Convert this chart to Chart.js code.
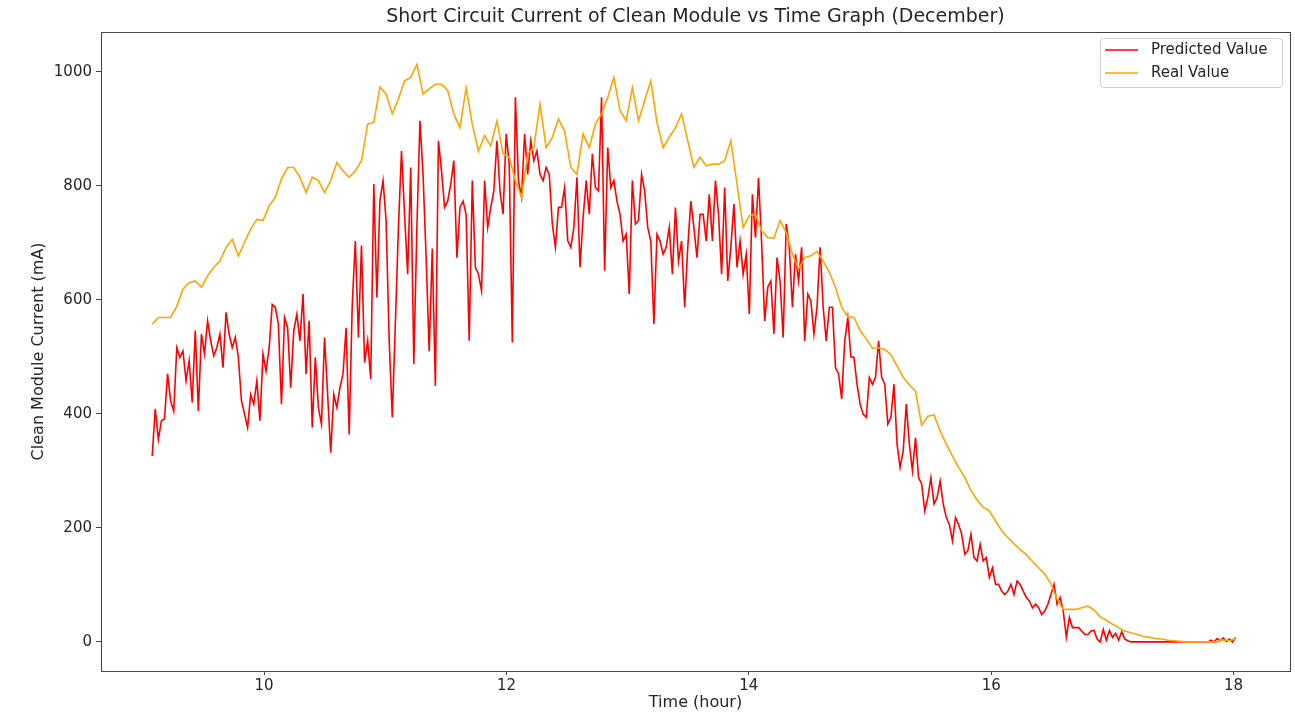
<!DOCTYPE html>
<html>
<head>
<meta charset="utf-8">
<title>Short Circuit Current of Clean Module vs Time Graph (December)</title>
<script src="https://cdn.jsdelivr.net/npm/chart.js@4.4.1/dist/chart.umd.min.js"></script>
<style>
    body { margin: 0; background: #fff; }
    #wrap { width: 1295px; height: 720px; }
</style>
</head>
<body>
<div id="wrap"><canvas id="chart" width="1295" height="720"></canvas></div>
<script>
// sampling of the two series (hours)
const predictedStart = 9.0764;
const predictedStep = 0.0254;
const realStart = 9.0764;
const realStep = 0.0508;

// Predicted Value (mA)
const predictedValues = [
    326, 409, 355, 388, 391, 470, 423, 405, 516, 499, 510, 458, 493, 420, 546, 405, 540, 505, 563, 528,
    502, 516, 540, 481, 578, 540, 516, 534, 499, 423, 400, 376, 434, 417, 458, 388, 505, 475, 516, 592,
    587, 557, 417, 569, 551, 446, 546, 575, 528, 610, 470, 563, 376, 499, 411, 382, 534, 434, 332, 434,
    411, 446, 470, 551, 364, 592, 703, 534, 695, 490, 528, 461, 803, 604, 774, 809, 739, 528, 394, 557,
    727, 861, 750, 645, 832, 487, 727, 914, 820, 674, 510, 690, 449, 879, 826, 762, 773, 803, 844, 674,
    762, 773, 750, 528, 809, 657, 645, 616, 809, 727, 762, 791, 879, 791, 750, 891, 838, 525, 955, 809,
    780, 891, 820, 879, 844, 861, 820, 809, 832, 820, 733, 692, 762, 762, 797, 704, 692, 727, 815, 657,
    744, 809, 750, 856, 797, 791, 955, 651, 867, 797, 809, 773, 750, 703, 715, 610, 809, 733, 739, 820,
    791, 727, 703, 557, 715, 703, 680, 692, 727, 645, 762, 668, 703, 587, 692, 773, 727, 674, 750, 750,
    703, 785, 703, 809, 750, 645, 797, 633, 692, 768, 657, 703, 645, 680, 575, 785, 709, 814, 700, 563,
    622, 633, 540, 674, 633, 534, 733, 692, 587, 680, 633, 692, 528, 610, 598, 540, 587, 692, 587, 528,
    587, 587, 481, 470, 426, 528, 569, 500, 499, 452, 417, 399, 394, 464, 452, 464, 528, 464, 452, 382,
    394, 452, 347, 306, 335, 417, 347, 300, 358, 288, 277, 230, 253, 288, 242, 253, 282, 242, 218, 206,
    177, 218, 206, 189, 154, 160, 189, 148, 142, 171, 142, 148, 113, 130, 101, 101, 89, 83, 89, 101,
    83, 107, 101, 89, 78, 72, 60, 66, 60, 48, 54, 66, 83, 101, 66, 78, 54, 8, 43, 25,
    25, 25, 19, 13, 13, 19, 20, 5, 0, 22, 3, 20, 8, 15, 3, 18, 5, 2, 0, 0,
    0, 0, 0, 0, 0, 0, 0, 0, 0, 0, 0, 0, 0, 0, 0, 0, 0, 0, 0, 0,
    0, 0, 0, 0, 3, 0, 6, 2, 7, 1, 5, 0, 8
];

// Real Value (mA)
const realValues = [
    557, 569, 569, 569, 589, 619, 630, 633, 622, 642, 657, 668, 692, 706, 677, 701, 724, 741, 739, 765,
    780, 812, 832, 832, 815, 788, 815, 809, 788, 809, 841, 826, 815, 826, 844, 908, 911, 973, 961, 926,
    952, 984, 990, 1013, 961, 970, 978, 978, 967, 926, 902, 972, 908, 861, 888, 870, 914, 856, 850, 809,
    780, 856, 867, 943, 867, 885, 917, 896, 832, 820, 891, 867, 908, 926, 955, 990, 932, 914, 972, 914,
    949, 984, 911, 867, 885, 902, 926, 879, 832, 850, 835, 838, 838, 844, 879, 803, 727, 747, 750, 721,
    709, 708, 739, 718, 680, 654, 674, 677, 685, 668, 648, 622, 587, 570, 569, 546, 531, 515, 516, 513,
    504, 484, 464, 451, 440, 380, 396, 398, 370, 347, 326, 306, 288, 266, 249, 236, 230, 212, 195, 183,
    172, 162, 153, 141, 130, 119, 102, 75, 57, 57, 57, 60, 63, 56, 44, 38, 31, 25, 19, 16,
    13, 10, 8, 6, 5, 3, 2, 1, 0, 0, 0, 0, 0, 0, 4, 2, 6
];

const xTickValues = [10, 12, 14, 16, 18];
const yTickValues = [0, 200, 400, 600, 800, 1000];

const seriesNames = ['Predicted Value', 'Real Value'];
const seriesColors = ['#ff0000', '#ffa500'];

function toPoints(start, step, values) {
    return values.map((v, i) => ({ x: start + step * i, y: v }));
}

const textColor = '#262626';
const axisColor = '#444444';
const fontFamily = '"DejaVu Sans", sans-serif';

// box round the plot, like matplotlib spines
const frame = {
    id: 'frame',
    afterDatasetsDraw(chart) {
        const { ctx, chartArea } = chart;
        ctx.save();
        ctx.strokeStyle = axisColor;
        ctx.lineWidth = 1;
        ctx.strokeRect(Math.round(chartArea.left) + 0.5, Math.round(chartArea.top) + 0.5,
            Math.round(chartArea.right - chartArea.left), Math.round(chartArea.bottom - chartArea.top));
        ctx.restore();
    }
};

// legend box in the upper right corner
const cornerLegend = {
    id: 'cornerLegend',
    afterDraw(chart) {
        const ctx = chart.ctx;
        ctx.save();
        ctx.beginPath();
        ctx.roundRect(1100.5, 38.5, 182, 49, 3);
        ctx.fillStyle = 'rgba(255,255,255,0.8)';
        ctx.fill();
        ctx.strokeStyle = '#d0d0d0';
        ctx.lineWidth = 1;
        ctx.stroke();

        ctx.font = '15px ' + fontFamily;
        ctx.textBaseline = 'middle';
        ctx.textAlign = 'left';
        seriesNames.forEach((name, k) => {
            const y = 50 + k * 23;
            ctx.beginPath();
            ctx.moveTo(1105, y);
            ctx.lineTo(1138, y);
            ctx.strokeStyle = seriesColors[k];
            ctx.lineWidth = 1.6;
            ctx.stroke();
            ctx.fillStyle = textColor;
            ctx.fillText(name, 1151, y);
        });
        ctx.restore();
    }
};

const canvas = document.getElementById('chart');

const chart = new Chart(canvas, {
    type: 'line',
    data: {
        datasets: [{
            label: seriesNames[0],
            data: toPoints(predictedStart, predictedStep, predictedValues),
            borderColor: seriesColors[0],
            borderWidth: 1.6,
            pointRadius: 0,
            tension: 0,
            order: 1
        }, {
            label: seriesNames[1],
            data: toPoints(realStart, realStep, realValues),
            borderColor: seriesColors[1],
            borderWidth: 1.6,
            pointRadius: 0,
            tension: 0,
            order: 0
        }]
    },
    options: {
        responsive: false,
        animation: false,
        layout: { padding: { left: 0, right: 5, top: 0, bottom: 0 } },
        plugins: {
            legend: { display: false },
            tooltip: { enabled: false },
            title: {
                display: true,
                text: 'Short Circuit Current of Clean Module vs Time Graph (December)',
                fullSize: false,
                color: textColor,
                font: { family: fontFamily, size: 19, weight: 'normal' },
                padding: { top: 6, bottom: 3 }
            }
        },
        scales: {
            x: {
                type: 'linear',
                min: 8.654,
                max: 18.466,
                afterBuildTicks: scale => { scale.ticks = xTickValues.map(v => ({ value: v })); },
                afterFit: scale => { scale.height = 49; },
                ticks: {
                    color: textColor,
                    font: { family: fontFamily, size: 15 },
                    padding: 2,
                    maxRotation: 0,
                    callback: value => String(value)
                },
                grid: { display: true, drawOnChartArea: false, drawTicks: true, tickLength: 4, color: axisColor },
                border: { display: false },
                title: {
                    display: true,
                    text: 'Time (hour)',
                    color: textColor,
                    font: { family: fontFamily, size: 16 },
                    padding: { top: 0, bottom: 8 }
                }
            },
            y: {
                type: 'linear',
                min: -51,
                max: 1070,
                afterBuildTicks: scale => { scale.ticks = yTickValues.map(v => ({ value: v })); },
                afterFit: scale => { scale.width = 101; },
                ticks: {
                    color: textColor,
                    font: { family: fontFamily, size: 15 },
                    padding: 4,
                    callback: value => String(value)
                },
                grid: { display: true, drawOnChartArea: false, drawTicks: true, tickLength: 5, color: axisColor },
                border: { display: false },
                title: {
                    display: true,
                    text: 'Clean Module Current (mA)',
                    color: textColor,
                    font: { family: fontFamily, size: 16 },
                    padding: { top: 29, bottom: 0 }
                }
            }
        }
    },
    plugins: [frame, cornerLegend]
});
</script>
</body>
</html>
